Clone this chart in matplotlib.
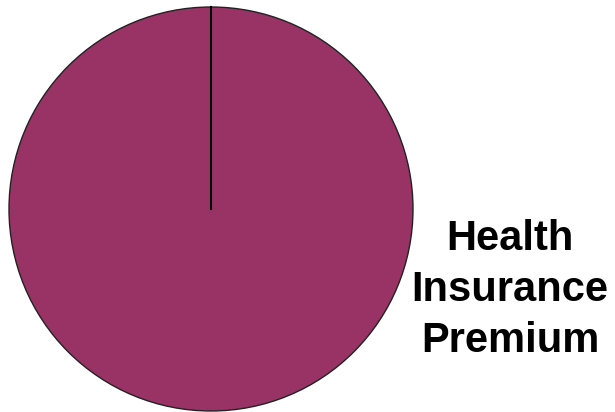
import matplotlib.pyplot as plt

# data
labels = ['Health\nInsurance\nPremium']
values = [100.0]
colors = ['#993366']

fig = plt.figure(figsize=(6.15, 4.12), dpi=100)
ax = fig.add_axes([0, 0, 1, 1])

# pie placed in pixel-like coords
cx, cy, r = 211, 209, 202
wedges, _ = ax.pie(values, colors=colors, startangle=90, counterclock=False,
                   center=(cx, cy), radius=r, frame=True,
                   wedgeprops=dict(edgecolor='none'))
ax.set_xlim(0, 615)
ax.set_ylim(412, 0)
ax.set_aspect('equal')
ax.axis('off')

# outline and the radial edge at the start angle
circ = plt.Circle((cx, cy), r, fill=False, edgecolor='#222222', linewidth=1.0)
ax.add_patch(circ)
ax.plot([cx, cx], [cy, cy - r], color='black', linewidth=1.5)

ax.text(510, 290, labels[0], ha='center', va='center', fontsize=30,
        fontweight='bold', family='Liberation Sans', linespacing=1.37)

plt.savefig('out.png', dpi=100)
